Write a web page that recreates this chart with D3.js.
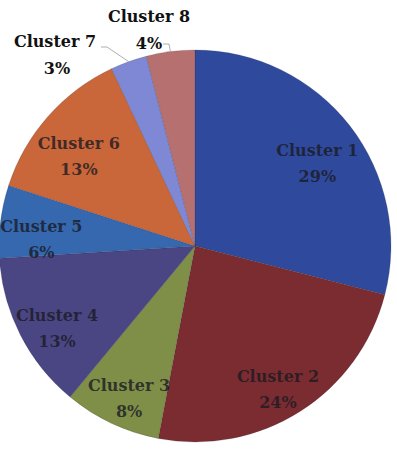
<!DOCTYPE html>
<html lang="en">
  <head>
    <meta charset="utf-8" />
    <title>Clusters</title>
    <script src="https://d3js.org/d3.v7.min.js"></script>
    <style>
      body { margin: 0; background: #fff; }
      text { font-family: "DejaVu Serif", "Liberation Serif", serif; font-weight: bold; }
    </style>
  </head>
  <body>
    <script>
      const WIDTH = 397;
      const HEIGHT = 458;
      const CX = 195;
      const CY = 246;
      const RADIUS = 196;

      // data
      const clusters = ["Cluster 1", "Cluster 2", "Cluster 3", "Cluster 4", "Cluster 5", "Cluster 6", "Cluster 7", "Cluster 8"];
      const shares = [29, 24, 8, 13, 6, 13, 3, 4];
      const colors = ["#2f4a9c", "#7b2c30", "#7f8f48", "#4a4683", "#3568af", "#c9663a", "#7f88d4", "#b77070"];
      const outside = ["Cluster 7", "Cluster 8"];

      const data = clusters.map((c, i) => ({ name: c, val: shares[i], color: colors[i] }));

      const svg = d3.select("body").append("svg")
        .attr("width", WIDTH)
        .attr("height", HEIGHT);

      const g = svg.append("g").attr("transform", `translate(${CX},${CY})`);

      const pie = d3.pie().value(d => d.val).sort(null);
      const arc = d3.arc().innerRadius(0).outerRadius(RADIUS);
      const labelArc = d3.arc().innerRadius(RADIUS * 0.79).outerRadius(RADIUS * 0.79);

      const arcs = pie(data);

      g.selectAll("path")
        .data(arcs)
        .enter()
        .append("path")
        .attr("d", arc)
        .attr("fill", d => d.data.color)
        .attr("stroke", "rgba(40,40,60,0.3)")
        .attr("stroke-width", 0.6);

      // labels inside the big slices
      const inner = g.selectAll(".lbl")
        .data(arcs.filter(d => !outside.includes(d.data.name)))
        .enter()
        .append("text")
        .attr("class", "lbl")
        .attr("text-anchor", "middle")
        .attr("font-size", 16)
        .attr("fill", "#1a1a24")
        .attr("fill-opacity", 0.8)
        .attr("transform", d => `translate(${labelArc.centroid(d)})`);
      inner.append("tspan").attr("x", 0).attr("y", 5).text(d => d.data.name);
      inner.append("tspan").attr("x", 0).attr("y", 31).text(d => d.data.val + "%");

      // small slices get labels outside with a leader line
      const placed = {
        "Cluster 7": { tx: -140, ty: -199, lx: -94, ly: -199 },
        "Cluster 8": { tx: -46, ty: -224, lx: -32, ly: -202 }
      };
      arcs.filter(d => outside.includes(d.data.name)).forEach(d => {
        const p = placed[d.data.name];
        const mid = (d.startAngle + d.endAngle) / 2;
        const ex = Math.sin(mid) * RADIUS;
        const ey = -Math.cos(mid) * RADIUS;
        g.append("path")
          .attr("d", `M${p.lx},${p.ly}L${p.lx + 6},${p.ly}L${ex},${ey}`)
          .attr("fill", "none")
          .attr("stroke", "#999")
          .attr("stroke-width", 0.8);
        const t = g.append("text")
          .attr("text-anchor", "middle")
          .attr("font-size", 16)
          .attr("fill", "#111")
          .attr("transform", `translate(${p.tx},${p.ty})`);
        t.append("tspan").attr("x", 0).attr("y", 0).text(d.data.name);
        t.append("tspan").attr("x", d.data.name === "Cluster 8" ? 0 : 2).attr("y", 27).text(d.data.val + "%");
      });
    </script>
  </body>
</html>
